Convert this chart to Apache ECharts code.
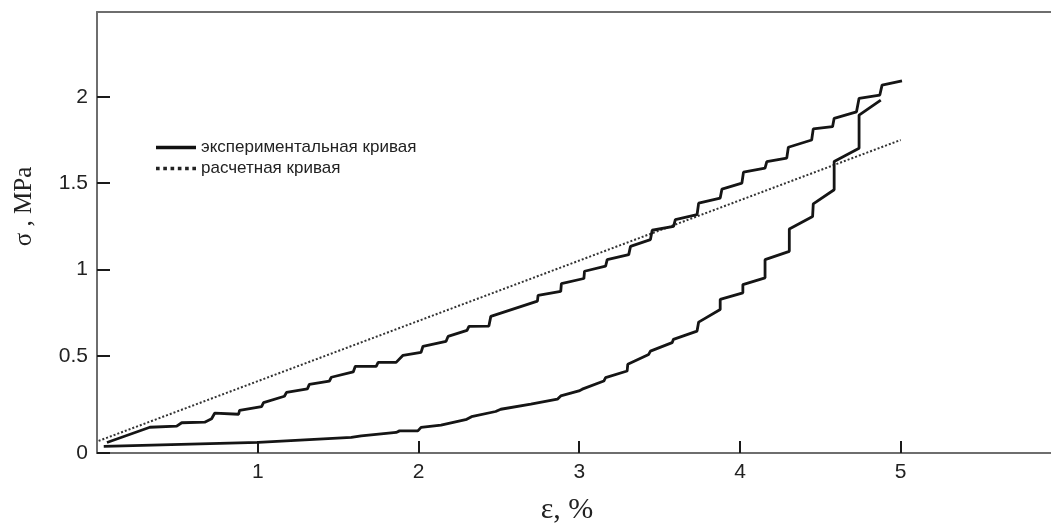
<!DOCTYPE html>
<html>
<head>
<meta charset="utf-8">
<script src="https://cdn.jsdelivr.net/npm/echarts@6/dist/echarts.min.js"></script>
<style>
html,body{margin:0;padding:0;background:#fff;}
#chart{width:1051px;height:530px;}
</style>
</head>
<body>
<div id="chart"></div>
<script>
// ---- data ----
const upperEps = [0.062,0.329,0.496,0.527,0.670,0.713,0.732,0.881,0.887,1.024,1.036,1.166,1.179,1.309,1.321,1.445,1.458,1.594,1.607,1.737,1.749,1.861,1.904,2.016,2.028,2.171,2.184,2.302,2.314,2.438,2.450,2.740,2.744,2.885,2.889,3.029,3.033,3.164,3.174,3.308,3.319,3.443,3.454,3.587,3.598,3.733,3.743,3.877,3.888,4.012,4.022,4.156,4.167,4.291,4.301,4.446,4.456,4.576,4.586,4.725,4.741,4.870,4.884,5.008];
const upperSigma = [0.001,0.089,0.095,0.115,0.118,0.138,0.170,0.164,0.187,0.208,0.231,0.268,0.291,0.311,0.337,0.355,0.378,0.409,0.441,0.441,0.464,0.464,0.505,0.522,0.557,0.585,0.614,0.649,0.672,0.674,0.730,0.818,0.852,0.875,0.920,0.949,0.991,1.020,1.058,1.087,1.135,1.174,1.228,1.250,1.289,1.318,1.385,1.414,1.466,1.501,1.564,1.587,1.625,1.645,1.708,1.750,1.814,1.827,1.875,1.913,1.991,2.010,2.067,2.092];

const lowerEps = [0.042,1.003,1.582,1.644,1.861,1.882,1.996,2.016,2.140,2.300,2.330,2.480,2.512,2.699,2.864,2.885,2.998,3.019,3.153,3.164,3.298,3.302,3.432,3.443,3.578,3.586,3.733,3.743,3.877,3.877,4.018,4.018,4.156,4.156,4.307,4.307,4.452,4.456,4.586,4.586,4.741,4.741,4.876];
const lowerSigma = [-0.022,0.001,0.030,0.039,0.059,0.068,0.068,0.088,0.101,0.135,0.150,0.180,0.193,0.222,0.251,0.270,0.299,0.309,0.356,0.376,0.414,0.453,0.510,0.529,0.578,0.597,0.645,0.697,0.770,0.828,0.866,0.914,0.953,1.058,1.106,1.235,1.308,1.381,1.462,1.625,1.702,1.894,1.981];

const calcEps = [0.01, 5.0];
const calcSigma = [0.01, 1.75];

const xTicks = [1, 2, 3, 4, 5];
const yTicks = [0, 0.5, 1, 1.5, 2];

const nameExp = 'экспериментальная кривая';
const nameCalc = 'расчетная кривая';

function zip(a, b) { return a.map((v, i) => [v, b[i]]); }

// legend sample shapes
let dots = '';
for (let i = 0; i < 6; i++) { dots += 'M' + (i * 7) + ',0h3.5v3.5h-3.5z'; }
const dotIcon = 'path://' + dots;
const solidIcon = 'path://M0,0L39,0L39,3.6L0,3.6Z';

const chart = echarts.init(document.getElementById('chart'), null, {renderer: 'canvas'});

const axisLineStyle = {color: '#6e6e6e', width: 2};

chart.setOption({
  animation: false,
  backgroundColor: '#ffffff',
  grid: {left: 97, right: 0, top: 12, bottom: 76, containLabel: false},
  legend: {
    orient: 'vertical',
    left: 151,
    top: 134,
    itemWidth: 40,
    itemHeight: 12,
    itemGap: 4,
    symbolKeepAspect: true,
    textStyle: {fontFamily: 'Liberation Sans, Arial, sans-serif', fontSize: 17, color: '#222'},
    data: [
      {name: nameExp, icon: solidIcon, itemStyle: {color: '#111'}},
      {name: nameCalc, icon: dotIcon, itemStyle: {color: '#222'}}
    ]
  },
  xAxis: [{
    type: 'value',
    min: 0,
    max: 5.935,
    interval: 1,
    position: 'bottom',
    axisLine: {show: true, lineStyle: axisLineStyle, onZero: false},
    axisTick: {show: true, inside: true, length: 12, lineStyle: {color: '#1a1a1a', width: 2}},
    axisLabel: {
      show: true, showMinLabel: false, showMaxLabel: false, margin: 9,
      fontFamily: 'Liberation Sans, Arial, sans-serif',
      fontSize: 21, color: '#222',
      formatter: v => (xTicks.indexOf(v) >= 0 ? String(v) : '')
    },
    splitLine: {show: false},
    name: 'ε, %',
    nameLocation: 'middle',
    nameGap: 42,
    nameTextStyle: {fontFamily: 'Liberation Serif, Times New Roman, serif', fontSize: 30, color: '#222', padding: [0, 14, 0, 0]}
  }, {
    type: 'value',
    min: 0,
    max: 5.935,
    position: 'top',
    axisLine: {show: true, lineStyle: axisLineStyle, onZero: false},
    axisTick: {show: false},
    axisLabel: {show: false},
    splitLine: {show: false}
  }],
  yAxis: {
    type: 'value',
    min: -0.06,
    max: 2.49,
    splitNumber: 5,
    axisLine: {show: true, lineStyle: axisLineStyle, onZero: false},
    axisTick: {show: true, inside: true, length: 13, lineStyle: {color: '#1a1a1a', width: 2}},
    axisLabel: {
      show: true, showMinLabel: true, showMaxLabel: false, margin: 9,
      fontFamily: 'Liberation Sans, Arial, sans-serif', fontSize: 21, color: '#222',
      formatter: v => (v < 0 ? '0' : (yTicks.indexOf(+v.toFixed(2)) >= 0 ? String(+v.toFixed(2)) : ''))
    },
    splitLine: {show: false},
    name: 'σ , MPa',
    nameLocation: 'middle',
    nameGap: 60,
    nameTextStyle: {fontFamily: 'Liberation Serif, Times New Roman, serif', fontSize: 25, color: '#222', padding: [0, 0, 0, 52]}
  },
  series: [
    {
      name: nameExp, type: 'line', data: zip(upperEps, upperSigma),
      showSymbol: false, symbol: 'none', smooth: false,
      lineStyle: {color: '#151515', width: 2.8}, itemStyle: {color: '#151515'}, z: 3
    },
    {
      name: nameExp, type: 'line', data: zip(lowerEps, lowerSigma),
      showSymbol: false, symbol: 'none', smooth: false,
      lineStyle: {color: '#151515', width: 2.8}, itemStyle: {color: '#151515'}, z: 3
    },
    {
      name: nameCalc, type: 'line', data: zip(calcEps, calcSigma),
      showSymbol: false, symbol: 'none',
      lineStyle: {color: '#333', width: 2, type: [2, 2]}, itemStyle: {color: '#333'}, z: 2
    }
  ]
});
</script>
</body>
</html>
